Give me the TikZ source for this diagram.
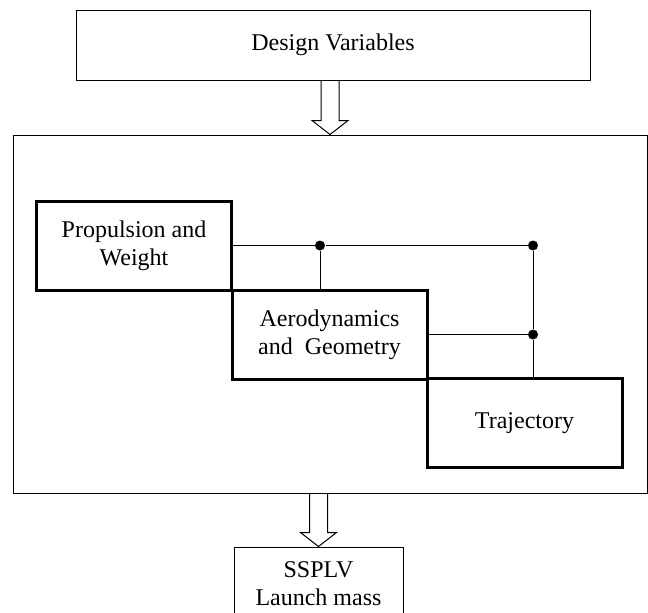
\documentclass[tikz,border=0pt]{standalone}
\usepackage{fontspec}
\setmainfont{Liberation Serif}
\usetikzlibrary{calc}

\tikzset{
    block/.style={draw, inner sep=0pt, align=center},
    module/.style={draw, line width=1.5pt, inner sep=0pt, align=center, minimum width=97.5pt, minimum height=44.5pt},
    joint/.style={circle, fill, inner sep=0pt, minimum size=5pt},
    blockarrow/.style={to path={let \p1=(\tikztostart), \p2=(\tikztotarget) in
        (\x1-4.5pt,\y1) -- (\x1-4.5pt,\y2+7pt) -- (\x1-9pt,\y2+7pt) -- (\x2,\y2)
        -- (\x1+9pt,\y2+7pt) -- (\x1+4.5pt,\y2+7pt) -- (\x1+4.5pt,\y1)}}
}

\begin{document}
\begin{tikzpicture}[x=0.5pt, y=-0.5pt, line width=0.5pt, font=\fontsize{12}{14}\selectfont]
    \clip (0,0) rectangle (648,612);

    \node[block, minimum width=257pt, minimum height=35pt] (design) at (333,45) {Design Variables};
    \node[block, minimum width=317pt, minimum height=179pt] (frame) at (330,314) {};
    \node[block, minimum width=84.5pt, minimum height=37pt] (ssplv) at (318.5,584) {SSPLV\\Launch mass};

    \node[module] (prop) at (134,245.5) {Propulsion and\\Weight};
    \node[module] (aero) at (329.5,334.5) {Aerodynamics\\and~ Geometry};
    \node[module] (traj) at (524.5,423) {Trajectory};

    \node[joint] (j1) at (320,245.5) {};
    \node[joint] (j2) at (533,245.5) {};
    \node[joint] (j3) at (533,334.5) {};

    \draw (prop.east) -- (j1) -- (j2);
    \draw (j1) -- (j1 |- aero.north);
    \draw (j2) -- (j3) -- (j3 |- traj.north);
    \draw (aero.east) -- (j3);

    \draw[blockarrow] (design.south -| frame.north) to (frame.north);
    \draw[blockarrow] (frame.south -| ssplv.north) to (ssplv.north);
\end{tikzpicture}
\end{document}
